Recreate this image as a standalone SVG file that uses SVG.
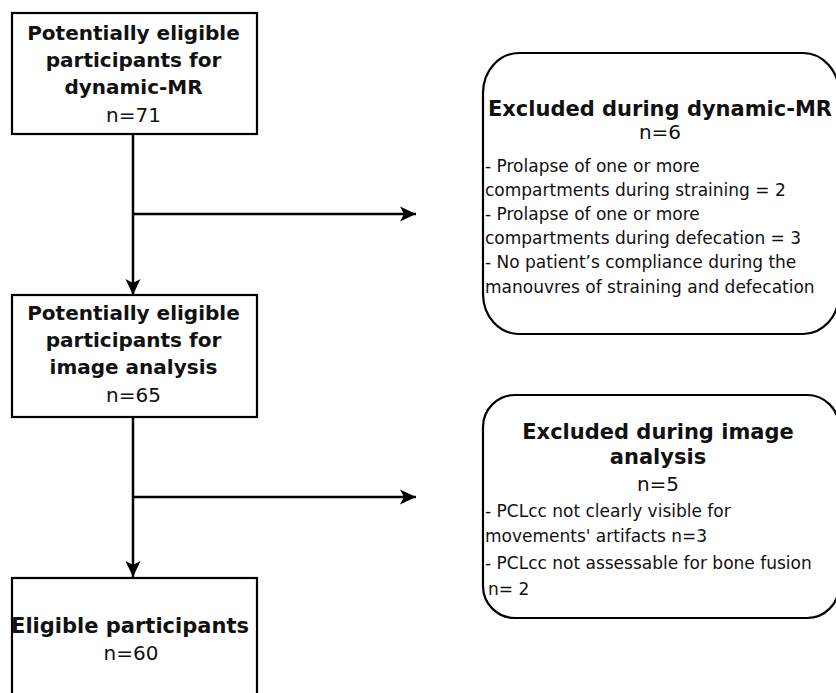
<svg xmlns="http://www.w3.org/2000/svg" width="836" height="693" viewBox="0 0 836 693">
<style>
.box{fill:#fff;stroke:#000;stroke-width:2.2}
.t{font-family:"DejaVu Sans",sans-serif;font-size:20px;fill:#111;text-anchor:middle}
.b{font-weight:bold}
.h{font-family:"DejaVu Sans",sans-serif;font-size:21px;font-weight:bold;fill:#111;text-anchor:middle}
.n{font-family:"DejaVu Sans",sans-serif;font-size:20px;fill:#111;text-anchor:middle}
.l{font-family:"DejaVu Sans",sans-serif;font-size:17px;fill:#111}
.c{fill:none;stroke:#000;stroke-width:2.5}
</style>
<defs>
<marker id="ah" markerUnits="userSpaceOnUse" viewBox="0 -8 16 16" refX="16" refY="0" markerWidth="16" markerHeight="16" orient="auto">
<path d="M0,-7.5 L16,0 L0,7.5 L4,0 z" fill="#000"/>
</marker>
</defs>
<rect width="836" height="693" fill="#fff"/>
<g id="connectors">
<line class="c" x1="133" y1="134" x2="133" y2="295" marker-end="url(#ah)"/>
<line class="c" x1="133" y1="214" x2="416" y2="214" marker-end="url(#ah)"/>
<line class="c" x1="133" y1="417" x2="133" y2="577" marker-end="url(#ah)"/>
<line class="c" x1="133" y1="497" x2="416" y2="497" marker-end="url(#ah)"/>
</g>
<g id="node-dynamic">
<rect class="box" x="12" y="13" width="245" height="121"/>
<text class="t b" x="133.5" y="40">Potentially eligible</text>
<text class="t b" x="133.5" y="67">participants for</text>
<text class="t b" x="133.5" y="94">dynamic-MR</text>
<text class="n" x="133.5" y="122">n=71</text>
</g>
<g id="node-image">
<rect class="box" x="12" y="295" width="245" height="122"/>
<text class="t b" x="133.5" y="320">Potentially eligible</text>
<text class="t b" x="133.5" y="347">participants for</text>
<text class="t b" x="133.5" y="374">image analysis</text>
<text class="n" x="133.5" y="402">n=65</text>
</g>
<g id="node-eligible">
<rect class="box" x="12" y="578" width="245" height="130"/>
<text class="t b" x="130" y="633" style="font-size:21px">Eligible participants</text>
<text class="n" x="131" y="660">n=60</text>
</g>
<g id="node-excl-mr">
<rect class="box" x="483" y="53" width="356" height="281" rx="36" ry="40"/>
<text class="h" x="660" y="116">Excluded during dynamic-MR</text>
<text class="n" x="660" y="139">n=6</text>
<text class="l" x="485" y="172">- Prolapse of one or more</text>
<text class="l" x="485" y="196">compartments during straining = 2</text>
<text class="l" x="485" y="220">- Prolapse of one or more</text>
<text class="l" x="485" y="244">compartments during defecation = 3</text>
<text class="l" x="485" y="268">- No patient’s compliance during the</text>
<text class="l" x="485" y="293">manouvres of straining and defecation</text>
</g>
<g id="node-excl-image">
<rect class="box" x="483" y="395" width="356" height="223" rx="32" ry="32"/>
<text class="h" x="658" y="439">Excluded during image</text>
<text class="h" x="658" y="464">analysis</text>
<text class="n" x="658" y="491">n=5</text>
<text class="l" x="485" y="517">- PCLcc not clearly visible for</text>
<text class="l" x="485" y="542">movements' artifacts n=3</text>
<text class="l" x="485" y="569">- PCLcc not assessable for bone fusion</text>
<text class="l" x="488" y="595">n= 2</text>
</g>
</svg>
